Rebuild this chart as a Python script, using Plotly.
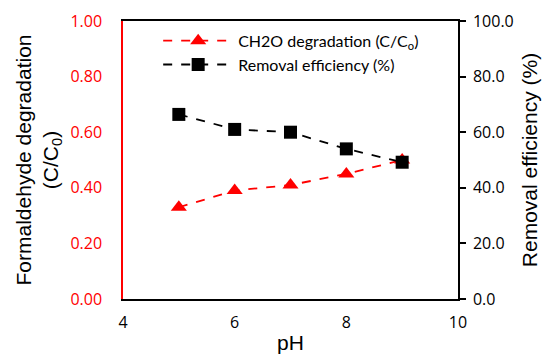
import plotly.graph_objects as go

ph = [5, 6, 7, 8, 9]
ch2o_degradation = [0.33, 0.39, 0.41, 0.45, 0.50]
removal_efficiency = [66.4, 61.0, 60.0, 54.0, 49.2]

x_ticks = [4, 6, 8, 10]
y1_ticks = [0, 0.2, 0.4, 0.6, 0.8, 1.0]
y2_ticks = [0, 20, 40, 60, 80, 100]

tick_font = dict(family="Open Sans, Lato, sans-serif", size=16)
title_font = dict(family="Liberation Sans, Arial, sans-serif", size=21, color="black")

fig = go.Figure()
fig.add_trace(go.Scatter(
    x=ph, y=ch2o_degradation, name="CH2O degradation (C/C<sub>o</sub>)",
    mode="lines+markers",
    line=dict(color="red", width=1.8, dash="dash"),
    marker=dict(symbol="triangle-up", size=14, color="red"),
    yaxis="y",
))
fig.add_trace(go.Scatter(
    x=ph, y=removal_efficiency, name="Removal efficiency (%)",
    mode="lines+markers",
    line=dict(color="black", width=1.8, dash="dash"),
    marker=dict(symbol="square", size=13, color="black"),
    yaxis="y2",
))

fig.update_layout(
    width=545, height=354,
    margin=dict(l=123, r=87, t=21, b=55),
    plot_bgcolor="white", paper_bgcolor="white",
    showlegend=True,
    legend=dict(x=0.105, y=0.99, xanchor="left", yanchor="top",
                bgcolor="rgba(0,0,0,0)", font=dict(family="Lato, Open Sans, sans-serif", size=16, color="black"),
                itemwidth=70, tracegroupgap=2),
    xaxis=dict(
        range=[4, 10], tickvals=x_ticks, ticktext=[str(v) for v in x_ticks],
        showgrid=False, zeroline=False, automargin=False,
        showline=True, linecolor="black", linewidth=1.5, mirror=True,
        ticks="", tickfont=dict(**tick_font, color="black"),
        ticklabelstandoff=8,
        title=dict(text="pH", font=title_font, standoff=4),
    ),
    yaxis=dict(
        range=[0, 1.0], tickvals=y1_ticks, ticktext=[f"{v:.2f}" for v in y1_ticks],
        showgrid=False, zeroline=False, automargin=False,
        showline=True, linecolor="red", linewidth=1.5,
        ticks="", tickfont=dict(**tick_font, color="red"),
        ticklabelstandoff=16,
        title=dict(text="Formaldehyde degradation<br>(C/C<sub>0</sub>)", font=title_font, standoff=6),
    ),
    yaxis2=dict(
        range=[0, 100], tickvals=y2_ticks, ticktext=[f"{v:.1f}" for v in y2_ticks],
        overlaying="y", side="right",
        showgrid=False, zeroline=False, automargin=False,
        showline=True, linecolor="black", linewidth=1.5,
        ticks="outside", ticklen=6, tickcolor="black", tickwidth=1.5,
        tickfont=dict(**tick_font, color="black"),
        ticklabelstandoff=4,
        title=dict(text="Removal efficiency (%)", font=title_font, standoff=10),
    ),
)

fig.write_html("out.html")
